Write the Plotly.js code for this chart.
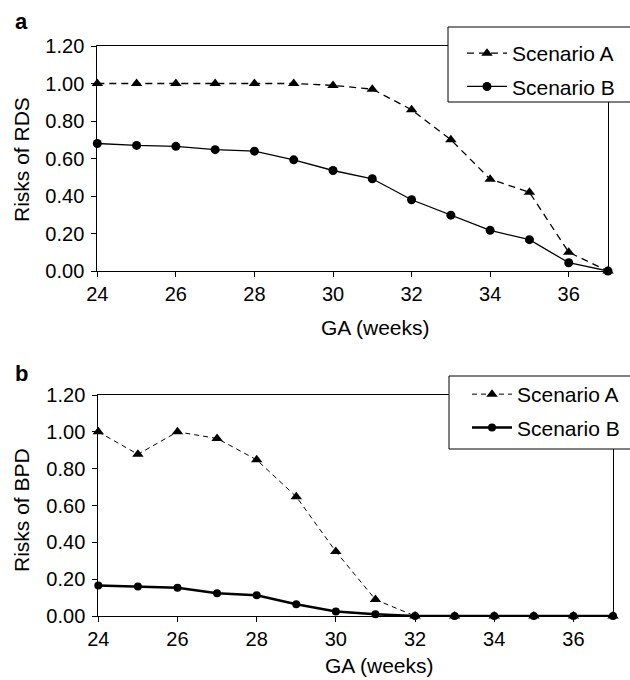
<!DOCTYPE html>
<html>
<head>
<meta charset="utf-8">
<script src="https://cdn.plot.ly/plotly-3.0.1.min.js"></script>
<style>
  html, body { margin: 0; padding: 0; background: #fff; }
  #chart { width: 630px; height: 680px; }
</style>
</head>
<body>
<div id="chart"></div>
<script>
// ---- data ----
const weeks = [24, 25, 26, 27, 28, 29, 30, 31, 32, 33, 34, 35, 36, 37];
const rdsScenarioA = [1.00, 1.00, 1.00, 1.00, 1.00, 1.00, 0.99, 0.97, 0.86, 0.70, 0.49, 0.42, 0.10, 0.00];
const rdsScenarioB = [0.68, 0.67, 0.665, 0.647, 0.639, 0.593, 0.536, 0.492, 0.38, 0.298, 0.217, 0.167, 0.044, 0.00];
const bpdScenarioA = [1.00, 0.878, 1.00, 0.964, 0.848, 0.648, 0.35, 0.089, 0.00, 0.00, 0.00, 0.00, 0.00, 0.00];
const bpdScenarioB = [0.165, 0.16, 0.154, 0.123, 0.113, 0.064, 0.025, 0.009, 0.00, 0.00, 0.00, 0.00, 0.00, 0.00];
const seriesNames = ["Scenario A", "Scenario B"];
const xTickVals = [24, 26, 28, 30, 32, 34, 36];
const yTickVals = [0, 0.2, 0.4, 0.6, 0.8, 1.0, 1.2];
const panelLabels = ["a", "b"];
const xTitle = "GA (weeks)";
const yTitles = ["Risks of RDS", "Risks of BPD"];

const W = 630, H = 680;
const px = v => v / W;
const py = v => (H - v) / H;
const FONT = "Liberation Sans, Arial, Helvetica, sans-serif";

const traces = [
  { x: weeks, y: rdsScenarioA, name: seriesNames[0], xaxis: "x", yaxis: "y", legend: "legend", legendgroup: "a1",
    mode: "lines+markers", cliponaxis: false,
    line: { color: "#000", width: 1.3, dash: "7px,5px" },
    marker: { symbol: "triangle-up", size: 10, color: "#000" } },
  { x: weeks, y: rdsScenarioB, name: seriesNames[1], xaxis: "x", yaxis: "y", legend: "legend", legendgroup: "b1",
    mode: "lines+markers", cliponaxis: false,
    line: { color: "#000", width: 1.3 },
    marker: { symbol: "circle", size: 9, color: "#000" } },
  { x: weeks, y: bpdScenarioA, name: seriesNames[0], xaxis: "x2", yaxis: "y2", legend: "legend2", legendgroup: "a2",
    mode: "lines+markers", cliponaxis: false,
    line: { color: "#000", width: 1, dash: "5px,4px" },
    marker: { symbol: "triangle-up", size: 10, color: "#000" } },
  { x: weeks, y: bpdScenarioB, name: seriesNames[1], xaxis: "x2", yaxis: "y2", legend: "legend2", legendgroup: "b2",
    mode: "lines+markers", cliponaxis: false,
    line: { color: "#000", width: 2.5 },
    marker: { symbol: "circle", size: 8, color: "#000" } }
];

function xAxis(domain, anchor) {
  return {
    domain: domain, anchor: anchor, range: [24, 37], tickvals: xTickVals,
    showline: true, linecolor: "#000", linewidth: 1, mirror: true,
    ticks: "outside", ticklen: 5, tickwidth: 1, tickcolor: "#000",
    showgrid: false, zeroline: false, fixedrange: true,
    tickfont: { family: FONT, size: 20, color: "#000" }
  };
}
function yAxis(domain, anchor) {
  return {
    domain: domain, anchor: anchor, range: [0, 1.2], tickvals: yTickVals, tickformat: ".2f",
    showline: true, linecolor: "#000", linewidth: 1, mirror: true,
    ticks: "outside", ticklen: 5, tickwidth: 1, tickcolor: "#000",
    showgrid: false, zeroline: false, fixedrange: true, ticklabelstandoff: 3,
    tickfont: { family: FONT, size: 20, color: "#000" }
  };
}
function legendAt(x, y) {
  return {
    x: px(x), y: py(y), xanchor: "left", yanchor: "top",
    bgcolor: "rgba(0,0,0,0)", borderwidth: 0,
    font: { family: FONT, size: 21, color: "#000" },
    tracegroupgap: 3, traceorder: "grouped", indentation: 12, itemwidth: 40
  };
}

const layout = {
  width: W, height: H,
  margin: { l: 0, r: 0, t: 0, b: 0 },
  paper_bgcolor: "#fff", plot_bgcolor: "#fff",
  font: { family: FONT, color: "#000" },
  showlegend: true,
  xaxis: xAxis([px(97.3), px(608)], "y"),
  yaxis: yAxis([py(271), py(46)], "x"),
  xaxis2: xAxis([px(98.3), px(613)], "y2"),
  yaxis2: yAxis([py(616), py(395)], "x2"),
  legend: legendAt(450, 33),
  legend2: legendAt(455, 374),
  shapes: [
    { type: "rect", xref: "paper", yref: "paper", x0: px(448), x1: px(631), y0: py(102), y1: py(27),
      fillcolor: "#fff", line: { color: "#000", width: 1 }, layer: "above" },
    { type: "rect", xref: "paper", yref: "paper", x0: px(449), x1: px(631), y0: py(449), y1: py(376),
      fillcolor: "#fff", line: { color: "#000", width: 1 }, layer: "above" }
  ],
  annotations: [
    { text: "<b>" + panelLabels[0] + "</b>", xref: "paper", yref: "paper", x: px(13), y: py(21),
      xanchor: "left", yanchor: "middle", showarrow: false, font: { family: FONT, size: 22, color: "#000" } },
    { text: "<b>" + panelLabels[1] + "</b>", xref: "paper", yref: "paper", x: px(13), y: py(373),
      xanchor: "left", yanchor: "middle", showarrow: false, font: { family: FONT, size: 22, color: "#000" } },
    { text: xTitle, xref: "paper", yref: "paper", x: px(375), y: py(328),
      xanchor: "center", yanchor: "middle", showarrow: false, font: { family: FONT, size: 21, color: "#000" } },
    { text: xTitle, xref: "paper", yref: "paper", x: px(379), y: py(665),
      xanchor: "center", yanchor: "middle", showarrow: false, font: { family: FONT, size: 21, color: "#000" } },
    { text: yTitles[0], xref: "paper", yref: "paper", x: px(21), y: py(160), textangle: -90,
      xanchor: "center", yanchor: "middle", showarrow: false, font: { family: FONT, size: 21, color: "#000" } },
    { text: yTitles[1], xref: "paper", yref: "paper", x: px(21), y: py(510), textangle: -90,
      xanchor: "center", yanchor: "middle", showarrow: false, font: { family: FONT, size: 21, color: "#000" } }
  ]
};

Plotly.newPlot("chart", traces, layout, { displayModeBar: false, staticPlot: true });
</script>
</body>
</html>
